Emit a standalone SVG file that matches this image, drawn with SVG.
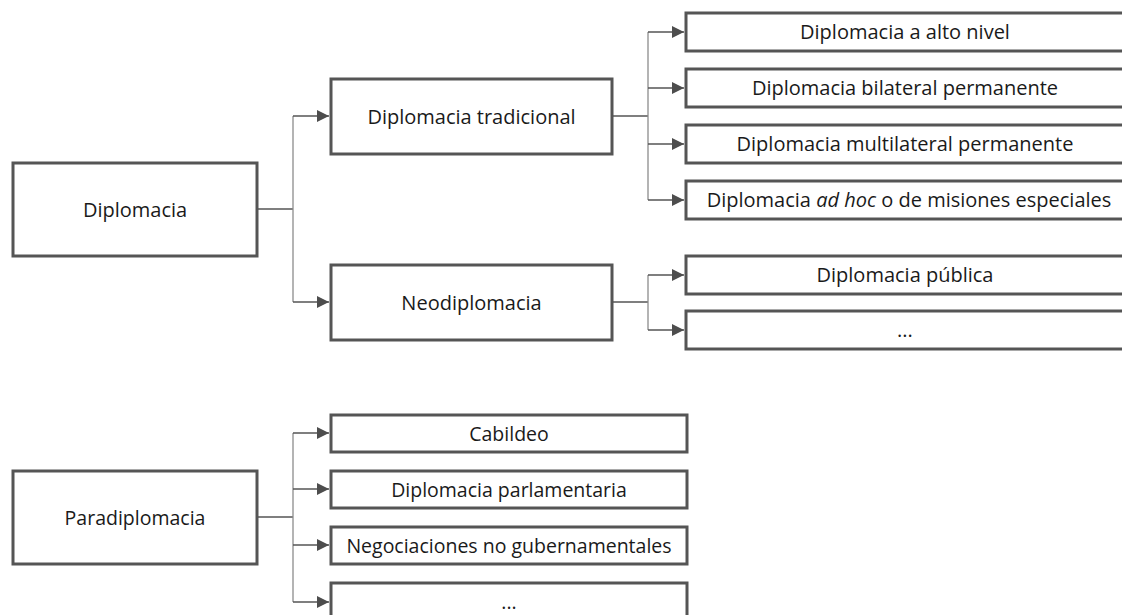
<svg xmlns="http://www.w3.org/2000/svg" width="1122" height="615" viewBox="0 0 1122 615">
  <style>
    .box { fill: #ffffff; stroke: #555555; stroke-width: 3; }
    .lbl { font-family: "Open Sans", "Liberation Sans", sans-serif; fill: #1a1a1a; text-anchor: middle; font-size: 20px; }
    .para { font-size: 19.5px; }
    .trunk { fill: none; stroke: #8c8c8c; stroke-width: 1.3; }
    .stem { fill: none; stroke: #555555; stroke-width: 1.3; }
  </style>
  <defs>
    <marker id="arrow" markerUnits="userSpaceOnUse" markerWidth="12" markerHeight="12" refX="12" refY="6" orient="auto">
      <path d="M0,0 L12,6 L0,12 z" fill="#4d4d4d"/>
    </marker>
  </defs>

  <!-- connectors -->
  <g id="connectors">
    <!-- Diplomacia -> two branches -->
    <line class="stem" x1="257" y1="209" x2="293" y2="209"/>
    <line class="trunk" x1="293" y1="116" x2="293" y2="302"/>
    <line class="stem" x1="293" y1="116" x2="329" y2="116" marker-end="url(#arrow)"/>
    <line class="stem" x1="293" y1="302" x2="329" y2="302" marker-end="url(#arrow)"/>

    <!-- Diplomacia tradicional -> four kinds -->
    <line class="stem" x1="612" y1="116" x2="648" y2="116"/>
    <line class="trunk" x1="648" y1="32" x2="648" y2="200"/>
    <line class="stem" x1="648" y1="32" x2="684" y2="32" marker-end="url(#arrow)"/>
    <line class="stem" x1="648" y1="88" x2="684" y2="88" marker-end="url(#arrow)"/>
    <line class="stem" x1="648" y1="144" x2="684" y2="144" marker-end="url(#arrow)"/>
    <line class="stem" x1="648" y1="200" x2="684" y2="200" marker-end="url(#arrow)"/>

    <!-- Neodiplomacia -> two kinds -->
    <line class="stem" x1="612" y1="302" x2="648" y2="302"/>
    <line class="trunk" x1="648" y1="275" x2="648" y2="330"/>
    <line class="stem" x1="648" y1="275" x2="684" y2="275" marker-end="url(#arrow)"/>
    <line class="stem" x1="648" y1="330" x2="684" y2="330" marker-end="url(#arrow)"/>

    <!-- Paradiplomacia -> four kinds -->
    <line class="stem" x1="257" y1="517" x2="293" y2="517"/>
    <line class="trunk" x1="293" y1="433" x2="293" y2="602"/>
    <line class="stem" x1="293" y1="433" x2="329" y2="433" marker-end="url(#arrow)"/>
    <line class="stem" x1="293" y1="489" x2="329" y2="489" marker-end="url(#arrow)"/>
    <line class="stem" x1="293" y1="545" x2="329" y2="545" marker-end="url(#arrow)"/>
    <line class="stem" x1="293" y1="602" x2="329" y2="602" marker-end="url(#arrow)"/>
  </g>

  <!-- root nodes -->
  <g id="diplomacia">
    <rect class="box" x="13" y="163" width="244" height="93"/>
    <text class="lbl" x="135" y="216.5">Diplomacia</text>
  </g>
  <g id="paradiplomacia">
    <rect class="box" x="13" y="471" width="244" height="93"/>
    <text class="lbl para" x="135" y="524.5">Paradiplomacia</text>
  </g>

  <!-- second level -->
  <g id="diplomacia-tradicional">
    <rect class="box" x="331" y="79" width="281" height="75"/>
    <text class="lbl" x="471.5" y="123.5">Diplomacia tradicional</text>
  </g>
  <g id="neodiplomacia">
    <rect class="box" x="331" y="265" width="281" height="75"/>
    <text class="lbl" x="471.5" y="309.5">Neodiplomacia</text>
  </g>

  <!-- kinds of traditional diplomacy -->
  <g id="alto-nivel">
    <rect class="box" x="686" y="13" width="440" height="38"/>
    <text class="lbl" x="905" y="39">Diplomacia a alto nivel</text>
  </g>
  <g id="bilateral">
    <rect class="box" x="686" y="69" width="440" height="38"/>
    <text class="lbl" x="905" y="95">Diplomacia bilateral permanente</text>
  </g>
  <g id="multilateral">
    <rect class="box" x="686" y="125" width="440" height="38"/>
    <text class="lbl" x="905" y="151">Diplomacia multilateral permanente</text>
  </g>
  <g id="ad-hoc">
    <rect class="box" x="686" y="181" width="440" height="38"/>
    <text class="lbl" x="909" y="207">Diplomacia <tspan font-style="italic">ad hoc</tspan> o de misiones especiales</text>
  </g>

  <!-- kinds of neodiplomacy -->
  <g id="publica">
    <rect class="box" x="686" y="256" width="440" height="38"/>
    <text class="lbl" x="905" y="282">Diplomacia pública</text>
  </g>
  <g id="neo-otros">
    <rect class="box" x="686" y="311" width="440" height="38"/>
    <text class="lbl" x="905" y="337">...</text>
  </g>

  <!-- kinds of paradiplomacy -->
  <g id="cabildeo">
    <rect class="box" x="331" y="415" width="356" height="37"/>
    <text class="lbl para" x="509" y="440.5">Cabildeo</text>
  </g>
  <g id="parlamentaria">
    <rect class="box" x="331" y="471" width="356" height="37"/>
    <text class="lbl para" x="509" y="496.5">Diplomacia parlamentaria</text>
  </g>
  <g id="no-gubernamentales">
    <rect class="box" x="331" y="527" width="356" height="37"/>
    <text class="lbl para" x="509" y="552.5">Negociaciones no gubernamentales</text>
  </g>
  <g id="para-otros">
    <rect class="box" x="331" y="583" width="356" height="37"/>
    <text class="lbl para" x="509" y="608.5">...</text>
  </g>
</svg>
